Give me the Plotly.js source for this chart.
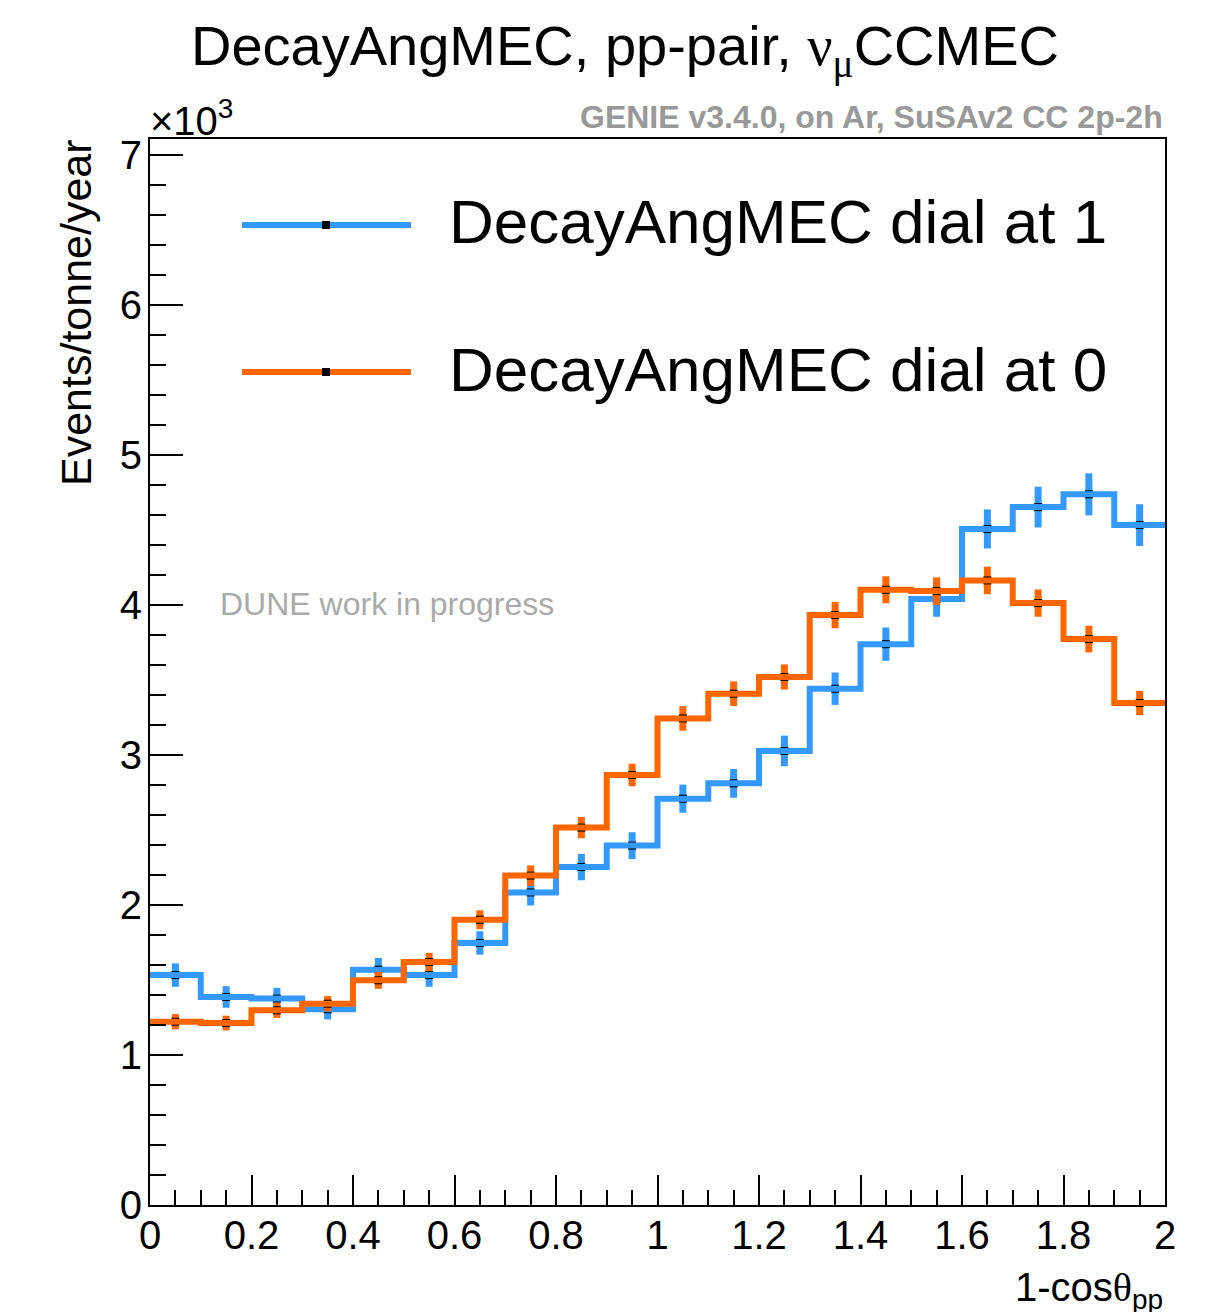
<!DOCTYPE html>
<html>
<head>
<meta charset="utf-8">
<script src="https://cdn.plot.ly/plotly-3.0.1.min.js"></script>
<style>
  html, body { margin: 0; padding: 0; background: #fff; }
  #plot { width: 1227px; height: 1312px; }
</style>
</head>
<body>
<div id="plot"></div>
<script>
// Bin edges of 1-cos(theta_pp), 20 bins of width 0.1
const binEdges = [0, 0.1, 0.2, 0.3, 0.4, 0.5, 0.6, 0.7, 0.8, 0.9, 1.0,
                  1.1, 1.2, 1.3, 1.4, 1.5, 1.6, 1.7, 1.8, 1.9, 2.0];

// Events/tonne/year in units of 10^3
const dialAt1 = [1.533, 1.387, 1.376, 1.305, 1.569, 1.533, 1.747, 2.084, 2.253, 2.396,
                 2.709, 2.811, 3.027, 3.442, 3.739, 4.040, 4.507, 4.653, 4.738, 4.533];
const dialAt1Err = [0.078, 0.072, 0.072, 0.068, 0.078, 0.078, 0.078, 0.087, 0.088, 0.089,
                    0.094, 0.096, 0.102, 0.108, 0.111, 0.118, 0.130, 0.136, 0.140, 0.139];

const dialAt0 = [1.222, 1.213, 1.298, 1.342, 1.498, 1.620, 1.902, 2.196, 2.516, 2.867,
                 3.244, 3.409, 3.520, 3.933, 4.102, 4.093, 4.164, 4.013, 3.773, 3.347];
const dialAt0Err = [0.051, 0.049, 0.051, 0.051, 0.057, 0.061, 0.063, 0.068, 0.071, 0.075,
                    0.082, 0.082, 0.084, 0.088, 0.090, 0.092, 0.092, 0.091, 0.089, 0.081];

const seriesNames = ['DecayAngMEC dial at 1', 'DecayAngMEC dial at 0'];
const seriesColors = ['#3399ff', '#ff6600'];

const FONT = 'Liberation Sans, Arial, Helvetica, sans-serif';
const SERIF = 'Liberation Serif, DejaVu Serif, serif';

// bin centres from the edges
const centres = binEdges.slice(0, -1).map((lo, i) => (lo + binEdges[i + 1]) / 2);

function histTraces(values, errors, color, name) {
  // step outline: repeat last value so the final bin reaches its upper edge
  const stepY = values.concat([values[values.length - 1]]);
  return [
    { // error bars only
      x: centres, y: values, type: 'scatter', mode: 'markers',
      marker: { size: 1, color: 'rgba(0,0,0,0)' },
      error_y: { type: 'data', array: errors, visible: true, color: color, thickness: 7, width: 0 },
      hoverinfo: 'skip', showlegend: false
    },
    { // black bin markers
      x: centres, y: values, type: 'scatter', mode: 'markers',
      marker: { symbol: 'square', size: 8, color: '#000', line: { width: 0 } },
      hoverinfo: 'skip', showlegend: false
    },
    { // histogram outline
      x: binEdges, y: stepY, type: 'scatter', mode: 'lines', name: name,
      line: { shape: 'hv', color: color, width: 6 },
      showlegend: false
    }
  ];
}

const data = []
  .concat(histTraces(dialAt1, dialAt1Err, seriesColors[0], seriesNames[0]))
  .concat(histTraces(dialAt0, dialAt0Err, seriesColors[1], seriesNames[1]));

// plot frame in pixels: x 150..1165, y 139..1205
const L = 150, R = 1165, T = 139, B = 1205;
const px = v => (v - L) / (R - L);
const py = v => (B - v) / (B - T);

const legendRows = [225, 372];
const shapes = [];
const annotations = [];
legendRows.forEach((row, i) => {
  shapes.push({ type: 'line', xref: 'paper', yref: 'paper',
    x0: px(242), x1: px(411), y0: py(row), y1: py(row),
    line: { color: seriesColors[i], width: 6 } });
  shapes.push({ type: 'rect', xref: 'paper', yref: 'paper',
    xsizemode: 'pixel', ysizemode: 'pixel', xanchor: px(326), yanchor: py(row),
    x0: -4, x1: 4, y0: -4, y1: 4, fillcolor: '#000', line: { width: 0 } });
  annotations.push({ xref: 'paper', yref: 'paper', x: px(447), y: py(row - 3),
    xanchor: 'left', yanchor: 'middle', showarrow: false,
    text: seriesNames[i], font: { family: FONT, size: 62, color: '#000' } });
});

annotations.push(
  { // title
    xref: 'paper', yref: 'paper', x: px(625), y: py(50), xanchor: 'center', yanchor: 'middle',
    showarrow: false,
    text: 'DecayAngMEC, pp-pair, <span style="font-family:' + SERIF + '">ν</span><sub><span style="font-family:' + SERIF + '">μ</span></sub>CCMEC',
    font: { family: FONT, size: 56, color: '#000' }
  },
  { // generator tag
    xref: 'paper', yref: 'paper', x: 1, y: py(117), xanchor: 'right', yanchor: 'middle',
    showarrow: false, text: '<b>GENIE v3.4.0, on Ar, SuSAv2 CC 2p-2h</b>',
    font: { family: FONT, size: 32, color: '#999999' }
  },
  { // exponent
    xref: 'paper', yref: 'paper', x: px(148), y: py(118), xanchor: 'left', yanchor: 'middle',
    showarrow: false, text: '×10<sup>3</sup>',
    font: { family: FONT, size: 40, color: '#000' }
  },
  { // y title
    xref: 'paper', yref: 'paper', x: px(76), y: py(313), xanchor: 'center', yanchor: 'middle',
    showarrow: false, textangle: -90, text: 'Events/tonne/year',
    font: { family: FONT, size: 43, color: '#000' }
  },
  { // x title
    xref: 'paper', yref: 'paper', x: 1, y: py(1290), xanchor: 'right', yanchor: 'middle',
    showarrow: false,
    text: '1-cos<span style="font-family:' + SERIF + '">θ</span><sub>pp</sub>',
    font: { family: FONT, size: 40, color: '#000' }
  },
  { // watermark
    xref: 'paper', yref: 'paper', x: px(218), y: py(604), xanchor: 'left', yanchor: 'middle',
    showarrow: false, text: 'DUNE work in progress',
    font: { family: FONT, size: 32, color: '#aaaaaa' }
  }
);

const layout = {
  width: 1227, height: 1312,
  margin: { l: L, r: 1227 - R, t: T, b: 1312 - B, pad: 0 },
  paper_bgcolor: '#fff', plot_bgcolor: '#fff',
  showlegend: false,
  font: { family: FONT, color: '#000' },
  xaxis: {
    range: [0, 2], tickmode: 'linear', tick0: 0, dtick: 0.2,
    ticks: 'inside', ticklen: 30, tickwidth: 2, tickcolor: '#000',
    minor: { ticks: 'inside', dtick: 0.05, ticklen: 15, tickwidth: 2, tickcolor: '#000' },
    showgrid: false, zeroline: false,
    showline: true, linecolor: '#000', linewidth: 2, mirror: true,
    tickfont: { family: FONT, size: 40, color: '#000' },
    ticklabelstandoff: -6
  },
  yaxis: {
    range: [0, 7.107], tickmode: 'linear', tick0: 0, dtick: 1,
    ticks: 'inside', ticklen: 33, tickwidth: 2, tickcolor: '#000',
    minor: { ticks: 'inside', dtick: 0.2, ticklen: 16, tickwidth: 2, tickcolor: '#000' },
    showgrid: false, zeroline: false,
    showline: true, linecolor: '#000', linewidth: 2, mirror: true,
    tickfont: { family: FONT, size: 40, color: '#000' },
    ticklabelstandoff: -2
  },
  shapes: shapes,
  annotations: annotations
};

Plotly.newPlot('plot', data, layout, { displayModeBar: false, staticPlot: true });
</script>
</body>
</html>
